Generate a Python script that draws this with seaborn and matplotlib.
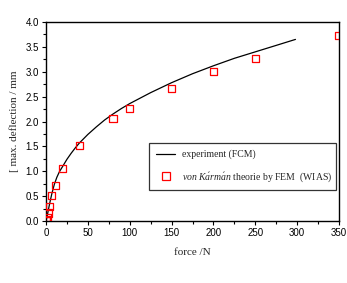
import matplotlib
matplotlib.use("Agg")
import matplotlib.pyplot as plt
import seaborn as sns
import pandas as pd
from matplotlib.lines import Line2D

# experiment (FCM) curve
exp_force = [0, 1, 2, 3, 5, 7, 10, 13, 16, 20, 25, 30, 35, 40, 50, 60, 70, 80, 90, 100,
             125, 150, 175, 200, 225, 250, 275, 298]
exp_defl = [0, 0.07, 0.15, 0.24, 0.40, 0.55, 0.74, 0.88, 0.99, 1.10, 1.24, 1.36, 1.47, 1.57,
            1.74, 1.89, 2.03, 2.15, 2.26, 2.36, 2.58, 2.78, 2.96, 3.12, 3.27, 3.40, 3.53, 3.65]

# von Karman theory by FEM (WIAS)
fem_force = [0, 1, 2, 3, 4, 7, 11, 20, 40, 80, 100, 150, 200, 250, 350]
fem_defl = [0.0, 0.02, 0.07, 0.16, 0.29, 0.52, 0.72, 1.06, 1.52, 2.06, 2.27, 2.67, 3.01, 3.27, 3.73]

xticks = [0, 50, 100, 150, 200, 250, 300, 350]
yticks = [0.0, 0.5, 1.0, 1.5, 2.0, 2.5, 3.0, 3.5, 4.0]

sns.set_style("ticks")
plt.rcParams['font.family'] = ['Liberation Sans', 'DejaVu Sans']
plt.rcParams['mathtext.fontset'] = 'custom'
plt.rcParams['mathtext.it'] = 'Liberation Serif:italic'
plt.rcParams['mathtext.rm'] = 'Liberation Serif'

fig = plt.figure(figsize=(3.47, 2.83), dpi=100)
ax = fig.add_axes([46/347, 62/283, 293/347, 199/283])

df_exp = pd.DataFrame({"force": exp_force, "defl": exp_defl})
df_fem = pd.DataFrame({"force": fem_force, "defl": fem_defl})

sns.lineplot(data=df_exp, x="force", y="defl", ax=ax, color="black", lw=0.9, sort=False)
sns.scatterplot(data=df_fem, x="force", y="defl", ax=ax, marker="s", s=26,
                facecolors="none", edgecolor="red", linewidth=0.9, zorder=3)

ax.set_xlim(0, 350)
ax.set_ylim(0, 4.0)
ax.set_xticks(xticks)
ax.set_yticks(yticks)
ax.set_xticklabels([str(t) for t in xticks], fontsize=7)
ax.set_yticklabels([f"{t:.1f}" for t in yticks], fontsize=7)
ax.set_xticks([25, 75, 125, 175, 225, 275, 325], minor=True)
ax.set_yticks([0.25, 0.75, 1.25, 1.75, 2.25, 2.75, 3.25, 3.75], minor=True)
ax.tick_params(which="both", direction="out", length=3, width=0.8, pad=2, colors="black")
ax.tick_params(which="minor", length=2)
for s in ax.spines.values():
    s.set_visible(True)
    s.set_linewidth(1.0)
    s.set_color("black")

ax.set_xlabel("force /N", family="Liberation Serif", fontsize=8, labelpad=7)
ax.set_ylabel("[ max. deflection / mm", family="Liberation Serif", fontsize=8, labelpad=5)

handles = [
    Line2D([], [], color="black", lw=0.9),
    Line2D([], [], marker="s", ls="none", markerfacecolor="none", markeredgecolor="red",
           markersize=6, markeredgewidth=0.9),
]
labels = ["experiment (FCM)", "$\\mathit{von\\ K\\acute{a}rm\\acute{a}n}$ theorie by FEM  (WIAS)"]
leg = ax.legend(handles, labels, loc="upper left",
                bbox_to_anchor=(149/347, (283-191)/283, 187/347, 48/283), mode="expand",
                bbox_transform=fig.transFigure, frameon=True, fancybox=False,
                prop={"family": "Liberation Serif", "size": 7}, handlelength=2.0,
                borderpad=0.7, labelspacing=1.1, handletextpad=0.7, borderaxespad=0)
leg.get_frame().set_edgecolor("black")
leg.get_frame().set_linewidth(0.9)

fig.savefig("out.png", dpi=100)
